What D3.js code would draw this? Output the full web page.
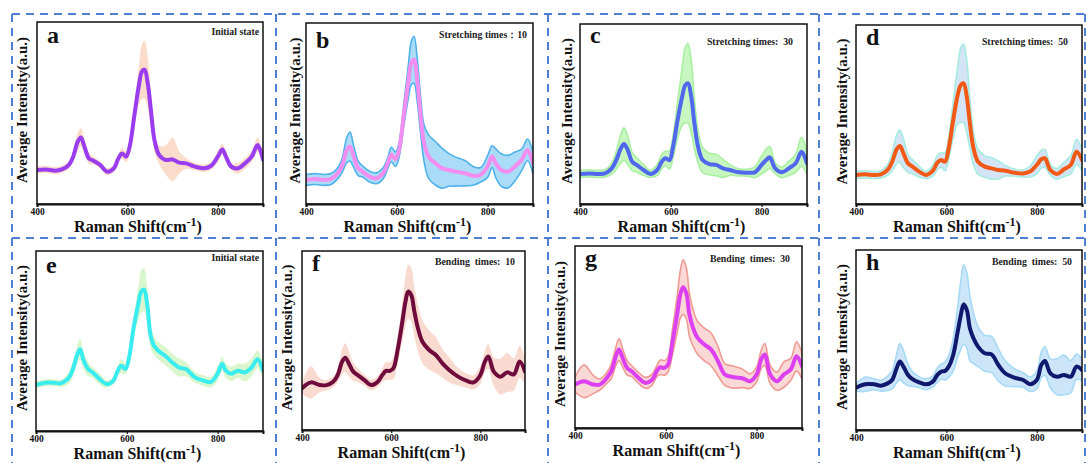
<!DOCTYPE html>
<html><head><meta charset="utf-8">
<script src="https://cdn.jsdelivr.net/npm/d3@7/dist/d3.min.js"></script>
<style>
html,body{margin:0;padding:0;background:#fff;}
svg text{font-family:"Liberation Serif","Times New Roman",serif;font-weight:bold;white-space:pre;}
</style></head>
<body>
<svg id="chart" width="1087" height="463"></svg>
<script>
// ---------- DATA ----------
const shift = [400,420,440,455,470,480,490,497,505,515,525,540,555,570,580,588,597,605,615,625,632,638,645,652,660,670,685,700,715,730,750,770,785,800,810,818,830,845,860,875,888,900];
const xTicks = [400,600,800];

const meanA = [18.7,19,18.3,19,21.4,26,34.2,36.6,31.5,25,23.8,21.4,17.8,19.6,25,27.8,26,31.5,48,64.5,72.7,73.8,66.3,51.6,35,27,24.2,24.5,22.7,22.3,20.5,19.6,20.9,26,30,26,20.5,19.6,22.3,26,32.4,24.5];
const sdA   = [2,2,2,2,2,3,5,5,4,3,2,2,2,2,2,3,3,4,7,10,15,16,14,10,6,5,8,12,6,3,2,2,2,3,3,3,2,3,3,3,4,3];

const meanB = [13.3,13.8,13.3,13.8,17,21.6,29.9,31.7,26.2,19.7,17.9,15.1,14.2,17,22.5,27.3,24.7,29.9,48.3,66.8,77.9,79.7,68.6,50.2,33.6,26.2,22.5,19.7,18.8,17.9,17,15.5,16.2,20.7,26.2,22.5,18.8,17.9,20.7,24.4,29.9,22.5];
const sdB   = [3,3,3,3,3,4,7,8,6,4,3,3,3,3,3,4,4,4,6,9,12,13,12,10,10,12,12,11,9,8,7,5,4,6,6,8,9,9,8,6,6,6];

const meanC = [16.7,17,16.7,17,19.8,24.4,30.9,33.3,30,23.5,21.7,18.9,16.7,18.9,23.5,25.4,24.4,31.9,46.7,59.6,66.1,67,59.6,44.8,31.9,24.4,22.2,21.7,19.8,18.9,17.6,17.4,17.6,21.7,24.4,25.9,19.8,17.6,19.8,22.6,29,22.6];
const sdC   = [2,2,2,2,3,5,8,9,8,5,4,3,2,3,4,4,5,6,10,16,21,22,20,14,9,7,6,6,5,3,2,2,3,5,6,6,3,3,4,5,8,6];

const meanD = [16.2,16.6,16.2,16.6,19,23.6,30.5,32.4,28.3,22.7,20.9,18.1,16.2,18.6,23.1,24.6,23.6,31.1,46.9,60.9,66.5,67.4,60,45.1,31.1,23.6,20.9,19.9,19,18.6,17.5,17.1,18.1,21.8,25,25.5,19,16.8,19.4,21.8,29.2,24.6];
const sdD   = [2,2,2,2,3,5,8,9,8,5,4,3,2,3,4,4,5,6,10,16,21,22,20,14,9,7,6,6,5,3,2,2,3,5,5,5,3,3,4,5,7,6];

const meanE = [25.7,26.8,26.8,26.5,28.9,33.5,41.7,45.4,39,34.4,32.5,28.9,26.1,27.9,33.5,36.2,34.4,40.8,57.4,70.2,77.6,78.5,70.2,53.7,47.3,44.5,41.7,38.1,35.3,34.4,29.8,27.9,27.2,31.8,37.3,33.5,31.8,33.5,32.5,35.3,39.9,33.5];
const sdE   = [2,2,2,2,3,4,5,6,5,4,3,3,2,2,3,4,3,3,6,9,12,12,10,7,5,5,5,5,5,4,3,3,3,4,4,4,4,4,5,5,5,4];

const meanF = [23.3,26.6,25.1,25.1,27,30.7,38.2,40.4,37.2,32.6,30.7,27.9,25.1,27,30.7,33,33,34.5,45.6,60.5,71.7,77.3,75.4,66.1,56.8,49.3,44.7,41.9,37.2,33.5,29.8,27.4,26.6,30.7,38.2,41,32.6,29.8,32.2,31.1,38.2,32.6];
const sdF   = [3,9,4,3,3,4,7,8,7,5,4,3,3,3,4,5,5,6,8,11,14,15,15,14,13,12,11,10,8,7,5,4,4,5,6,7,8,10,11,9,9,7];

const meanG = [23.9,25.7,23.9,23.9,27.5,31.2,39.4,43.1,38.5,33,31.2,27.5,24.8,26.6,31.2,33.4,33,34.9,47.7,62.4,73.4,77.4,74.3,62.4,55,49.5,45.9,43.1,36.7,29.4,27.9,27.2,25.7,29.4,37.6,40.4,29.4,25.7,29.4,32.1,39.4,33.9];
const sdG   = [4,9,5,3,3,4,5,6,5,4,3,3,3,3,3,4,4,4,7,10,13,15,14,12,10,9,9,9,8,6,6,5,4,4,5,6,5,5,7,6,8,7];

const meanH = [23.5,25.4,25.4,24.6,25.9,27.8,34.3,38,35.2,30.6,28.3,26.5,25.4,26.9,30.6,32.4,32.8,35.2,41.7,54.6,63.9,69.8,66.7,56.5,50.9,46.3,42.6,42,36.1,31.5,29.1,27.8,25.4,27.8,36.1,38.3,31.5,29.6,30.6,29.6,35.2,33.3];
const sdH   = [2,4,3,3,4,5,8,10,9,6,4,3,3,3,4,4,5,6,9,14,19,22,21,18,14,11,10,10,9,7,5,4,4,5,7,8,8,10,11,9,7,6];

const letters = ["a","b","c","d","e","f","g","h"];
const notes = ["Initial state","Stretching times\uFF1A10","Stretching times:  30","Stretching times:  50",
               "Initial state","Bending  times:  10","Bending  times:  30","Bending  times:  50"];
const means = [meanA,meanB,meanC,meanD,meanE,meanF,meanG,meanH];
const sds = [sdA,sdB,sdC,sdD,sdE,sdF,sdG,sdH];

// ---------- LAYOUT / STYLE ----------
const frames = [
  {x0:37,x1:263,y0:22,y1:204, ylOff:15, noteDx:4, noteY:13, letY:21},
  {x0:306,x1:533,y0:23,y1:204, ylOff:11, noteDx:6, noteY:15, letY:25},
  {x0:580,x1:807,y0:24,y1:204, ylOff:13, noteDx:14, noteY:21, letY:19},
  {x0:856,x1:1082,y0:25,y1:204, ylOff:14, noteDx:14, noteY:20, letY:20},
  {x0:36,x1:263,y0:251,y1:431, ylOff:14, noteDx:4, noteY:10, letY:22},
  {x0:302,x1:525,y0:251,y1:430, ylOff:15, noteDx:10, noteY:14, letY:20},
  {x0:575,x1:802,y0:246,y1:428, ylOff:15, noteDx:12, noteY:16, letY:20},
  {x0:856,x1:1082,y0:250,y1:430, ylOff:14, noteDx:10, noteY:15, letY:20}
];
const styles = [
  {line:"#9a3cf0", fill:"#f9cdb4", fop:0.7, edge:null},
  {line:"#f28ef0", fill:"#8ed0f4", fop:0.75, edge:"#4fb2ea"},
  {line:"#5068ec", fill:"#b6f3ac", fop:0.75, edge:"#aaf0a2"},
  {line:"#f05a16", fill:"#cddff6", fop:0.85, edge:"#a6ece0"},
  {line:"#38ecf0", fill:"#d6f5c6", fop:0.9, edge:null},
  {line:"#6e0a3c", fill:"#f8d3c9", fop:0.85, edge:null},
  {line:"#dc40f0", fill:"#fad4d2", fop:0.9, edge:"#f09a94"},
  {line:"#0f1a6e", fill:"#c4e0f8", fop:0.85, edge:"#a6daf5"}
];

const svg = d3.select("#chart");

// dashed separators
const dash = svg.append("g").attr("stroke","#4f7fd2").attr("stroke-width",2).attr("stroke-dasharray","8,6").attr("fill","none");
[[12,14,1085,14],[12,238,1085,238],[12,14,12,463],[276,14,276,463],[548,14,548,463],[819,14,819,463],[1085,14,1085,463]]
  .forEach(l=>dash.append("line").attr("x1",l[0]).attr("y1",l[1]).attr("x2",l[2]).attr("y2",l[3]));

frames.forEach((f,i)=>{
  const x = d3.scaleLinear().domain([400,900]).range([f.x0,f.x1]);
  const y = d3.scaleLinear().domain([0,100]).range([f.y1,f.y0]);
  const g = svg.append("g");
  const clipId = "clip"+i;
  g.append("clipPath").attr("id",clipId).append("rect")
    .attr("x",f.x0).attr("y",f.y0).attr("width",f.x1-f.x0).attr("height",f.y1-f.y0);
  const m = means[i], s = sds[i], st = styles[i];
  const pts = shift.map((v,k)=>({x:v,m:m[k],s:s[k]}));
  const curve = d3.curveCatmullRom.alpha(0.5);
  const area = d3.area().x(d=>x(d.x)).y0(d=>y(d.m-d.s)).y1(d=>y(d.m+d.s)).curve(curve);
  const plot = g.append("g").attr("clip-path",`url(#${clipId})`);
  plot.append("path").datum(pts).attr("d",area).attr("fill",st.fill).attr("fill-opacity",st.fop).attr("stroke","none");
  if (st.edge){
    const up = d3.line().x(d=>x(d.x)).y(d=>y(d.m+d.s)).curve(curve);
    const lo = d3.line().x(d=>x(d.x)).y(d=>y(d.m-d.s)).curve(curve);
    plot.append("path").datum(pts).attr("d",up).attr("fill","none").attr("stroke",st.edge).attr("stroke-width",1.6);
    plot.append("path").datum(pts).attr("d",lo).attr("fill","none").attr("stroke",st.edge).attr("stroke-width",1.6);
  }
  const line = d3.line().x(d=>x(d.x)).y(d=>y(d.m)).curve(curve);
  plot.append("path").datum(pts).attr("d",line).attr("fill","none").attr("stroke",st.line)
    .attr("stroke-width",4).attr("stroke-linejoin","round").attr("stroke-linecap","round");

  // frame
  g.append("rect").attr("x",f.x0).attr("y",f.y0).attr("width",f.x1-f.x0).attr("height",f.y1-f.y0)
    .attr("fill","none").attr("stroke","#111").attr("stroke-width",1.5);

  // axis
  const ax = g.append("g").attr("transform",`translate(0,${f.y1})`)
    .call(d3.axisBottom(x).tickValues(xTicks).tickSize(3).tickPadding(1.5).tickFormat(d3.format("d")));
  ax.select(".domain").attr("stroke","#111").attr("stroke-width",2);
  ax.selectAll(".tick line").attr("stroke","#111").attr("stroke-width",1.2);
  ax.selectAll(".tick text").attr("font-size",9.5).attr("fill","#111")
    .style("font-family",'"Liberation Serif","Times New Roman",serif').style("font-weight","bold");

  // x label
  const xl = g.append("text").attr("x",(f.x0+f.x1)/2-12).attr("y",Math.min(f.y1+28,460))
    .attr("text-anchor","middle").attr("font-size",16).attr("fill","#111");
  xl.append("tspan").text("Raman Shift(cm");
  xl.append("tspan").attr("dy",-6).attr("font-size",12).text("-1");
  xl.append("tspan").attr("dy",6).text(")");

  // y label
  const cy = (f.y0+f.y1)/2 - 3;
  g.append("text").attr("transform",`translate(${f.x0-f.ylOff+5},${cy}) rotate(-90)`)
    .attr("text-anchor","middle").attr("font-size",15).attr("fill","#111").text("Average Intensity(a.u.)");

  // panel letter
  g.append("text").attr("x",f.x0+10).attr("y",f.y0+f.letY).attr("font-size",24).attr("fill","#111").text(letters[i]);
  // note
  g.append("text").attr("x",f.x1-f.noteDx).attr("y",f.y0+f.noteY).attr("text-anchor","end")
    .attr("font-size",9.8).attr("fill","#222").text(notes[i]);
});
</script>
</body></html>
